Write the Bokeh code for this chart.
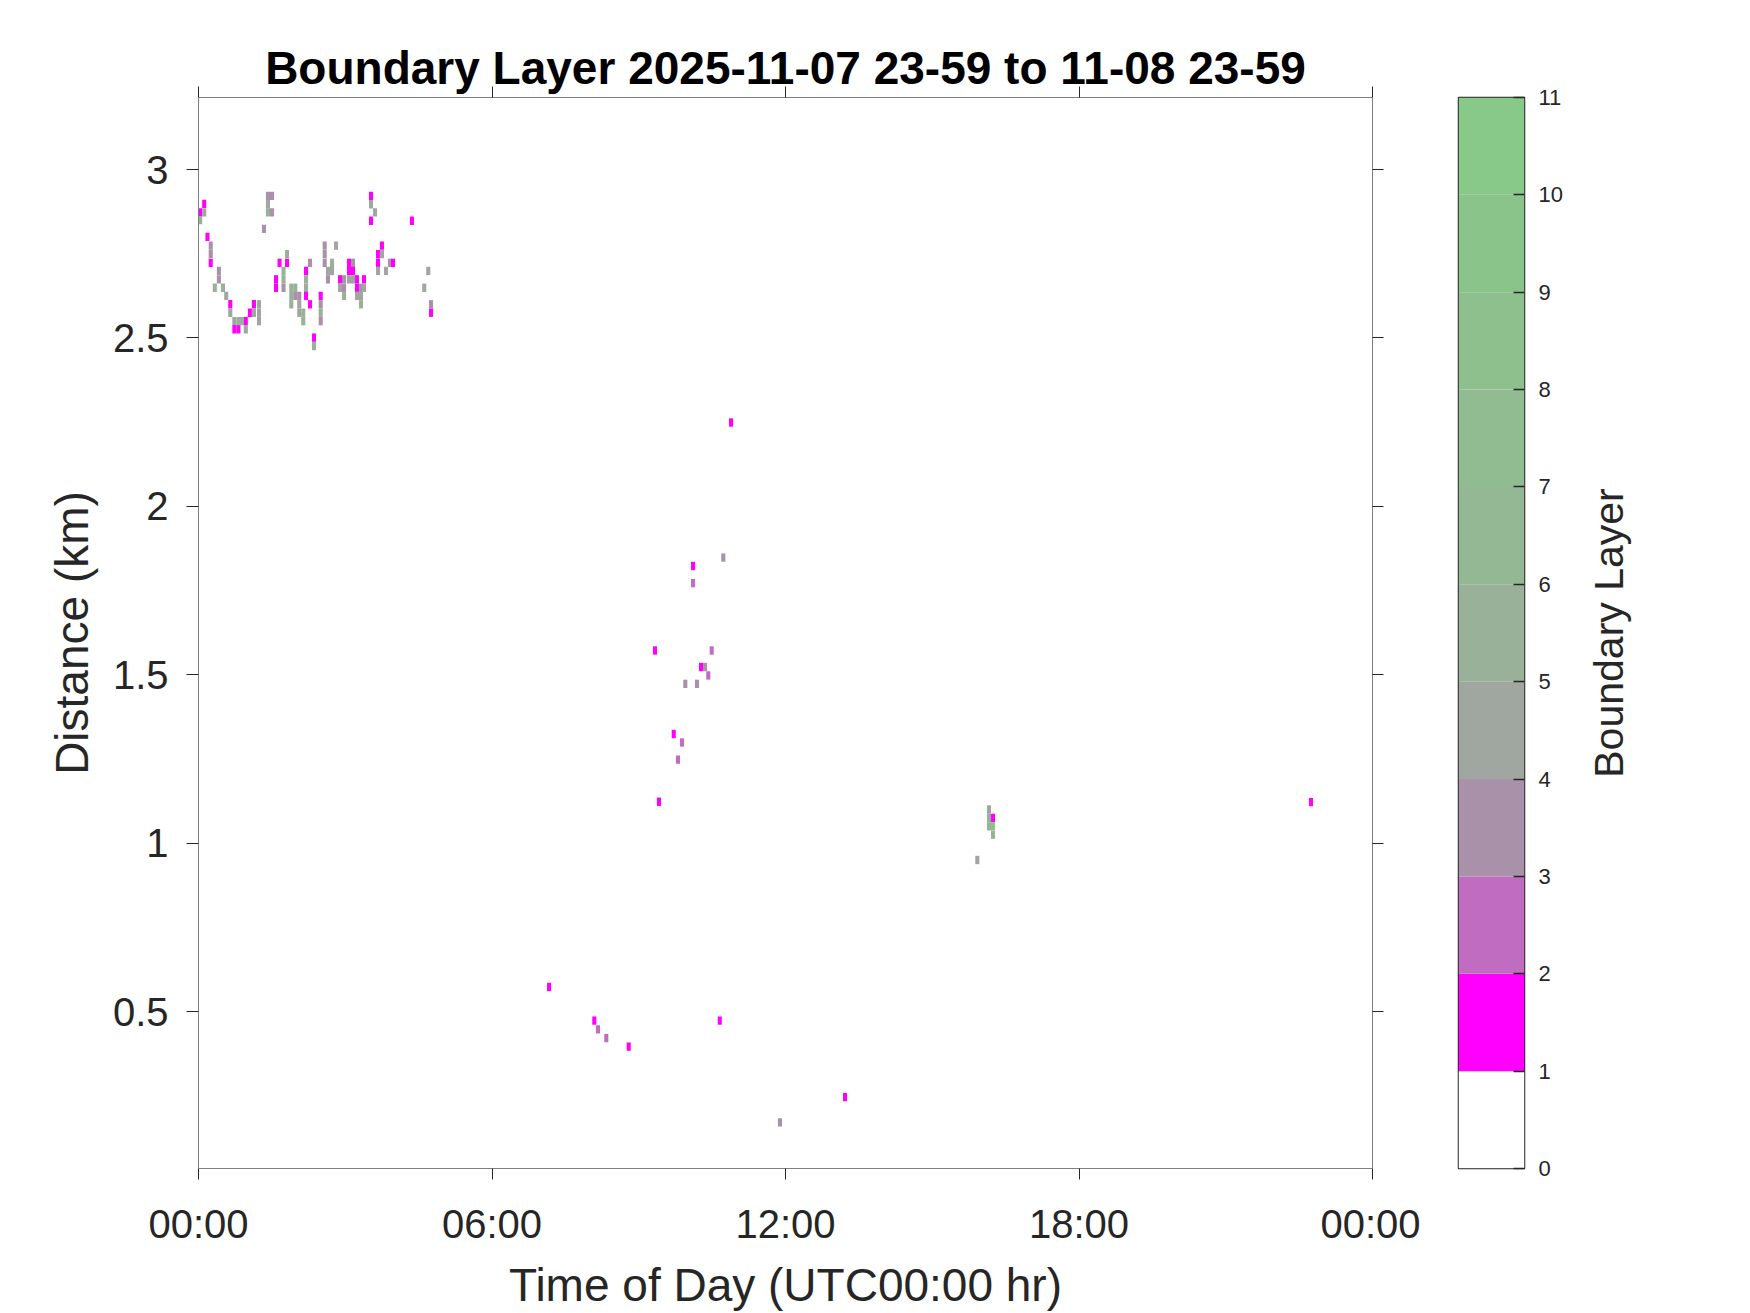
import math
from bokeh.plotting import figure
from bokeh.models import (ColumnDataSource, LinearColorMapper, FixedTicker,
                          LinearAxis, Range1d, Label)
from bokeh.layouts import row
from bokeh.embed import file_html
from bokeh.resources import INLINE

# ---------------- data ----------------
# cell centre time (minutes after 00:00 UTC), height (km), boundary-layer class
time_min = [
    7, 2, 7, 2, 11, 15, 15, 15, 25, 25, 20, 30, 34, 39, 39, 44, 44, 49, 49, 53,
    58, 58, 63, 68, 68,
    74.2, 74.2, 74.2, 85.2, 90.2, 85.2, 85.2, 90.2, 80.3, 108.6, 99.4, 108.6,
    104.3, 104.3, 95.1, 95.1, 104.3, 113.8, 113.8, 113.8, 118.7, 118.7, 123.6,
    123.6, 123.6, 128.5, 128.5, 136.8, 131.9, 131.9, 131.9, 131.9, 136.8,
    141.7, 141.7,
    211.6, 211.6, 216.5, 211.6, 154.8, 154.8, 154.8, 168.7, 163.8, 158.8, 163.8,
    158.8, 184.6, 189.5, 184.6, 189.5, 173.6, 178.5, 184.6, 189.5, 194.4, 194.4,
    203, 173.6, 178.5, 178.5, 199.3, 203, 194.4, 199.3, 199.3, 149.9, 149.9,
    149.9, 149.9,
    261.8, 225, 220.2, 220.2, 225, 234.9, 238.6, 220.2, 230, 281.8, 276.9,
    285.2, 285.2,
    653.2, 643.7, 606.6, 606.6, 559.9, 629.5, 616.4, 621.3, 625.3, 597.1, 611.5,
    582.9, 593.1, 588.2, 564.8,
    969.6, 969.6, 969.6, 974.5, 974.5, 974.5, 955.3, 1364.6,
    430, 485.5, 490, 500.2, 527.7, 639.4, 793, 713.2,
]
height_km = [
    2.898, 2.873, 2.873, 2.850, 2.800, 2.774, 2.749, 2.723, 2.699, 2.674, 2.649,
    2.649, 2.625, 2.600, 2.575, 2.550, 2.526, 2.526, 2.550, 2.550, 2.550, 2.526,
    2.575, 2.600, 2.575,
    2.600, 2.575, 2.550, 2.922, 2.922, 2.897, 2.873, 2.873, 2.824, 2.749, 2.723,
    2.723, 2.699, 2.674, 2.674, 2.649, 2.649, 2.649, 2.625, 2.600, 2.649, 2.625,
    2.625, 2.600, 2.575, 2.575, 2.550, 2.723, 2.699, 2.674, 2.649, 2.625, 2.600,
    2.501, 2.476,
    2.922, 2.897, 2.873, 2.848, 2.774, 2.749, 2.723, 2.774, 2.723, 2.699, 2.699,
    2.674, 2.723, 2.723, 2.699, 2.699, 2.674, 2.674, 2.674, 2.674, 2.674, 2.649,
    2.674, 2.649, 2.649, 2.625, 2.649, 2.649, 2.625, 2.625, 2.600, 2.625, 2.600,
    2.575, 2.550,
    2.848, 2.774, 2.749, 2.723, 2.749, 2.723, 2.723, 2.699, 2.699, 2.699, 2.649,
    2.600, 2.575,
    2.249, 1.848, 1.823, 1.772, 1.572, 1.572, 1.523, 1.523, 1.498, 1.473, 1.473,
    1.324, 1.299, 1.248, 1.123,
    1.100, 1.075, 1.050, 1.075, 1.050, 1.025, 0.950, 1.122,
    0.573, 0.473, 0.447, 0.421, 0.396, 0.473, 0.246, 0.171,
]
layer_class = [
    1, 1, 4, 5, 1, 3, 3, 1, 3, 3, 5, 5, 4, 1, 4, 4, 1, 1, 5, 5, 1, 4, 1, 1, 4,
    4, 4, 4, 3, 3, 4, 5, 3, 3, 5, 1, 1, 5, 5, 1, 1, 3, 5, 5, 5, 5, 3, 3, 4, 4,
    5, 5, 3, 1, 5, 5, 1, 1, 1, 5,
    1, 4, 4, 1, 3, 3, 3, 4, 5, 4, 4, 3, 1, 3, 1, 1, 1, 3, 4, 4, 1, 1, 1, 4, 3,
    5, 3, 4, 4, 4, 5, 1, 3, 5, 3,
    1, 1, 1, 1, 4, 3, 1, 4, 4, 4, 4, 3, 1,
    1, 3, 1, 2, 1, 2, 1, 3, 2, 3, 3, 1, 2, 2, 1,
    4, 5, 5, 1, 8, 5, 4, 1,
    1, 1, 2, 2, 1, 1, 1, 3,
]

palette = ["#FFFFFF", "#FF00FF", "#C06CC0", "#A992A9", "#A0A6A0", "#98B198",
           "#94B894", "#91BC91", "#8EC08E", "#8BC48B", "#88C888"]
level_low = [0, 1, 2, 3, 4, 5, 6, 7, 8, 9, 10]
level_high = [1, 2, 3, 4, 5, 6, 7, 8, 9, 10, 11]

x_ticks = [0, 6, 12, 18, 24]
x_tick_labels = ["00:00", "06:00", "12:00", "18:00", "00:00"]
y_ticks = [0.5, 1, 1.5, 2, 2.5, 3]
y_tick_labels = ["0.5", "1", "1.5", "2", "2.5", "3"]
cb_ticks = list(range(12))

title_text = "Boundary Layer 2025-11-07 23-59 to 11-08 23-59"
cb_title = "Boundary Layer"
FONT = "Liberation Sans"
TXT = "#262626"

H = 1313
TOP = 97
BOTTOM = 145

# ---------------- main figure ----------------
src = ColumnDataSource(dict(
    hour=[t / 60.0 for t in time_min],
    km=height_km,
    val=[c + 0.5 for c in layer_class],
))
mapper = LinearColorMapper(palette=palette, low=0, high=11)

p = figure(width=1420, height=H, x_range=Range1d(0, 24),
           y_range=Range1d(0.034, 3.214), output_backend="svg",
           toolbar_location=None, title=title_text,
           min_border_left=198, min_border_right=48,
           min_border_top=TOP, min_border_bottom=BOTTOM)
p.title.text_font = FONT
p.title.text_font_size = "46px"
p.title.text_font_style = "bold"
p.title.text_color = "#000000"
p.title.align = "center"
p.title.standoff = -14
p.grid.visible = False
p.outline_line_color = "#808080"
p.background_fill_color = "white"
p.border_fill_color = "white"

p.rect(x="hour", y="km", width=5 / 60.0, height=0.0248, source=src,
       fill_color={"field": "val", "transform": mapper}, line_color=None)


def style_axis(ax, ticks, labels, show_labels):
    ax.ticker = FixedTicker(ticks=ticks)
    ax.major_tick_out = 11
    ax.major_tick_in = 0
    ax.minor_tick_out = 0
    ax.minor_tick_in = 0
    ax.axis_line_color = "#808080"
    ax.axis_line_width = 1
    ax.major_tick_line_color = TXT
    ax.major_tick_line_width = 1
    ax.major_label_text_font = FONT
    ax.major_label_text_color = TXT
    if show_labels:
        ax.major_label_overrides = {t: l for t, l in zip(ticks, labels)}
        ax.major_label_text_font_size = "40px"
    else:
        ax.major_label_overrides = {t: "" for t in ticks}
        ax.major_label_text_font_size = "0px"
        ax.major_label_standoff = 0
    ax.axis_label_text_font = FONT
    ax.axis_label_text_font_size = "46px"
    ax.axis_label_text_font_style = "normal"
    ax.axis_label_text_color = TXT


xa = p.xaxis[0]
style_axis(xa, x_ticks, x_tick_labels, True)
xa.axis_label = "Time of Day (UTC00:00 hr)"
xa.major_label_standoff = 22
xa.axis_label_standoff = 10

ya = p.yaxis[0]
style_axis(ya, y_ticks, y_tick_labels, True)
ya.major_tick_out = 12
ya.axis_label = "Distance (km)"
ya.major_label_standoff = 18
ya.axis_label_standoff = 12

top_ax = LinearAxis()
style_axis(top_ax, x_ticks, x_tick_labels, False)
p.add_layout(top_ax, "above")

right_ax = LinearAxis()
style_axis(right_ax, y_ticks, y_tick_labels, False)
p.add_layout(right_ax, "right")

# ---------------- colour bar (as its own small figure) ----------------
cb = figure(width=160, height=H, x_range=Range1d(0, 1), y_range=Range1d(0, 11),
            x_axis_type=None, y_axis_type=None, output_backend="svg",
            toolbar_location=None,
            min_border_left=38, min_border_right=56,
            min_border_top=TOP, min_border_bottom=BOTTOM)
cb.grid.visible = False
cb.quad(left=0, right=1, bottom=level_low, top=level_high,
        fill_color=palette, line_color=None)
cb.outline_line_color = TXT
cb.outline_line_width = 1.5
cb.border_fill_color = "white"
cb_ax = LinearAxis(ticker=FixedTicker(ticks=cb_ticks))
cb_ax.major_tick_in = 11
cb_ax.major_tick_out = 0
cb_ax.minor_tick_in = 0
cb_ax.minor_tick_out = 0
cb_ax.axis_line_color = None
cb_ax.major_tick_line_color = TXT
cb_ax.major_tick_line_width = 1.5
cb_ax.major_label_text_font = FONT
cb_ax.major_label_text_font_size = "22px"
cb_ax.major_label_text_color = TXT
cb_ax.major_label_standoff = 14
cb.add_layout(cb_ax, "right")

# ---------------- colour-bar title, in a narrow strip to the right ----------------
lab = figure(width=170, height=H, x_range=Range1d(0, 170), y_range=Range1d(0, 11),
             x_axis_type=None, y_axis_type=None, output_backend="svg",
             toolbar_location=None,
             min_border_left=0, min_border_right=0,
             min_border_top=TOP, min_border_bottom=BOTTOM)
lab.grid.visible = False
lab.outline_line_color = None
lab.border_fill_color = "white"
lab.add_layout(Label(x=28, y=5.5, text=cb_title, angle=math.pi / 2,
                     text_align="center", text_baseline="middle",
                     text_font=FONT, text_font_size="41px", text_color=TXT))

layout = row(p, cb, lab)
open("out.html", "w").write(file_html(layout, INLINE))
